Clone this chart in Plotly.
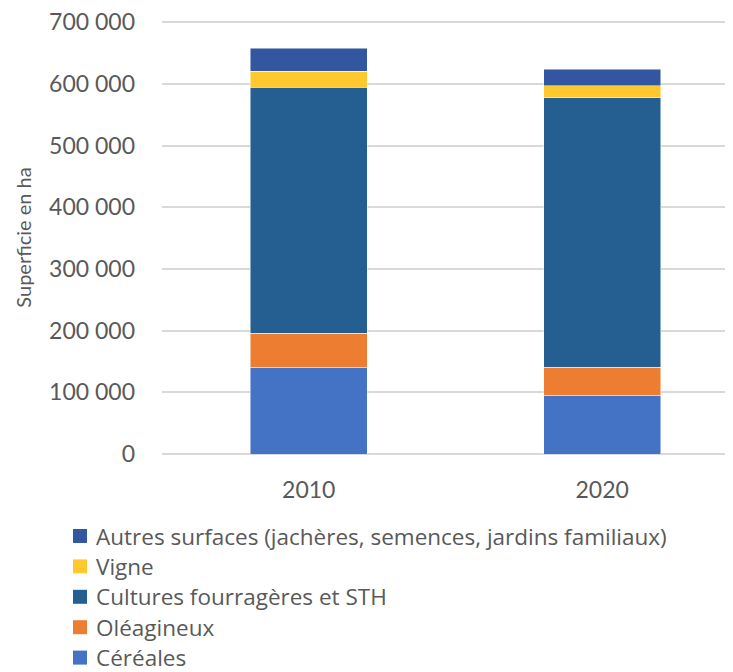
import plotly.graph_objects as go

years = ["2010", "2020"]
cereales = [141000, 95000]
oleagineux = [55000, 46000]
cultures = [398500, 436500]
vigne = [26000, 19500]
autres = [37000, 27000]

names = ["Céréales", "Oléagineux", "Cultures fourragères et STH", "Vigne",
         "Autres surfaces (jachères, semences, jardins familiaux)"]
values = [cereales, oleagineux, cultures, vigne, autres]
colors = ["#4472C4", "#ED7D31", "#255E91", "#FFC82E", "#3256A0"]

tickvals = [0, 100000, 200000, 300000, 400000, 500000, 600000, 700000]
ticktext = ["0", "100 000", "200 000", "300 000", "400 000", "500 000", "600 000", "700 000"]

W, H = 733, 672
L, R, T, B = 154, 8, 13, 226
PW, PH = W - L - R, H - T - B

fig = go.Figure()
for name, vals, col in zip(names, values, colors):
    fig.add_trace(go.Bar(
        x=years, y=vals, name=name, width=0.398, showlegend=False,
        marker=dict(color=col, line=dict(color="rgba(255,255,255,0.6)", width=0.8)),
    ))

# manual legend (top to bottom: reversed series order)
shapes, annots = [], []
first_row = 528  # px from figure top (centre of first legend row)
row_gap = 30.4
for i, (name, col) in enumerate(reversed(list(zip(names, colors)))):
    cy = first_row + i * row_gap
    yc = (H - B - cy) / PH
    shapes.append(dict(type="rect", xref="paper", yref="paper",
                       x0=(65 - L) / PW, x1=(79 - L) / PW,
                       y0=yc - 7 / PH, y1=yc + 7 / PH,
                       fillcolor=col, line=dict(width=0)))
    annots.append(dict(text=name, xref="paper", yref="paper",
                       x=(86 - L) / PW, y=yc, xanchor="left", yanchor="middle",
                       showarrow=False,
                       font=dict(family="Open Sans, Lato, sans-serif", size=22.5, color="#595959")))

fig.update_layout(
    barmode="stack",
    width=W, height=H,
    margin=dict(l=L, r=R, t=T, b=B, autoexpand=False),
    plot_bgcolor="white", paper_bgcolor="white",
    font=dict(family="Lato, Open Sans, sans-serif", size=23, color="#595959"),
    xaxis=dict(type="category", range=[-0.5, 1.4456], showgrid=False, showline=False,
               ticks="", ticklabelstandoff=20, tickfont=dict(size=23, color="#595959")),
    yaxis=dict(range=[0, 702000], tickvals=tickvals, ticktext=ticktext,
               showgrid=True, gridcolor="#D9D9D9", gridwidth=1.5,
               zeroline=True, zerolinecolor="#D9D9D9", zerolinewidth=1.5,
               ticks="", ticklabelstandoff=26, ticklabeloverflow="allow",
               tickfont=dict(size=23, color="#595959"),
               title=dict(text="Superficie en ha", font=dict(size=20, color="#595959"), standoff=12)),
    shapes=shapes,
    annotations=annots,
    showlegend=False,
)

fig.write_html("out.html")
